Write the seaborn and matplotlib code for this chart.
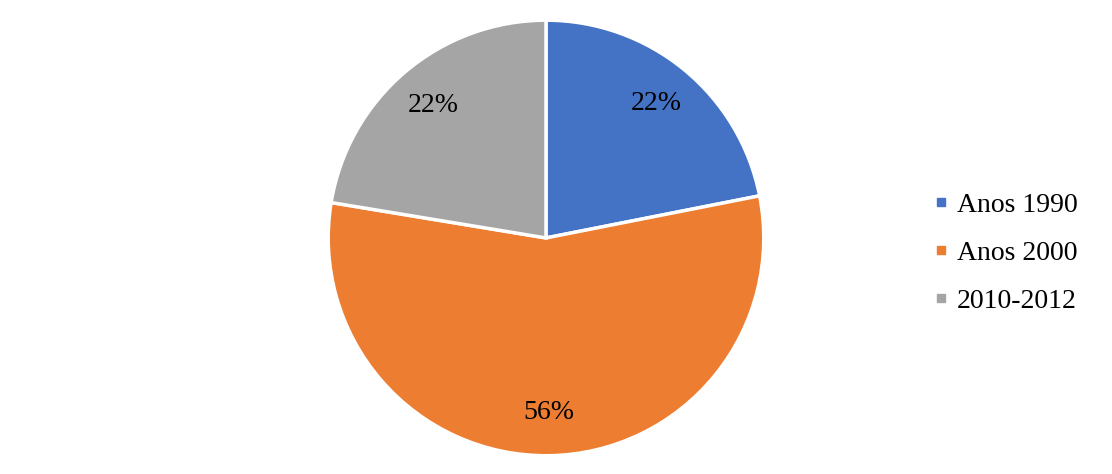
import matplotlib
matplotlib.use("Agg")
import matplotlib.pyplot as plt
from matplotlib.lines import Line2D
import seaborn as sns

# data (shares; labels show rounded values)
periods = ["Anos 1990", "Anos 2000", "2010-2012"]
shares = [21.9, 55.7, 22.4]
colors = ["#4472C4", "#ED7D31", "#A5A5A5"]

sns.set_theme(style="white")
plt.rcParams['font.family'] = ['Liberation Serif', 'DejaVu Serif']
plt.rcParams['text.color'] = 'black'

fig = plt.figure(figsize=(11.12, 4.74), dpi=100)
ax = fig.add_axes([0.293, 0.034, 0.396, 0.928])

wedges, texts, autotexts = ax.pie(
    shares, colors=colors, startangle=90, counterclock=False,
    autopct="%.0f%%", pctdistance=0.8,
    wedgeprops=dict(edgecolor="white", linewidth=2.5),
    textprops=dict(fontsize=20, color="black"),
)
ax.set_xlim(-1.01, 1.01)
ax.set_ylim(-1.01, 1.01)
ax.set_aspect("equal")

handles = [Line2D([0], [0], marker="s", linestyle="", markersize=6,
                  markerfacecolor=c, markeredgecolor=c) for c in colors]
fig.legend(handles, periods, loc="center left", bbox_to_anchor=(0.839, 0.466),
           frameon=False, fontsize=20, labelspacing=0.8, handletextpad=0.25,
           handlelength=0.6, borderpad=0, borderaxespad=0, labelcolor="black")

fig.savefig("out.png", dpi=100)
